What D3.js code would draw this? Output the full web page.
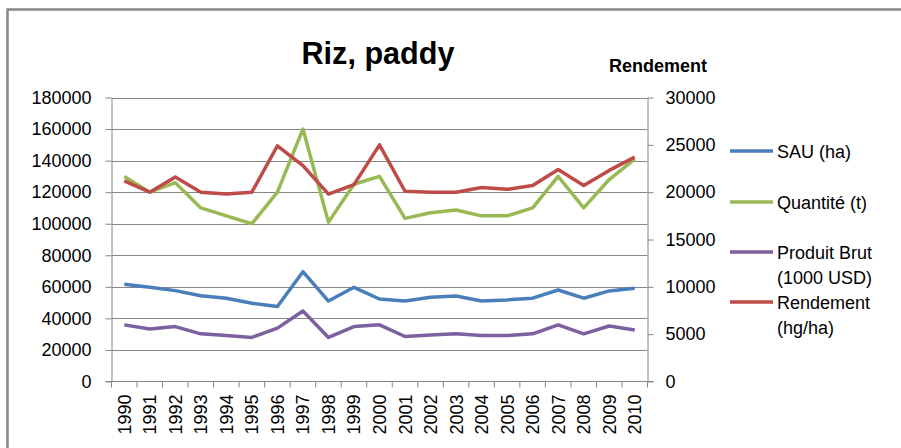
<!DOCTYPE html>
<html>
<head>
<meta charset="utf-8">
<script src="https://cdn.jsdelivr.net/npm/d3@7"></script>
<style>
  body { margin: 0; background: #fff; }
  svg { display: block; font-family: "Liberation Sans", Arial, sans-serif; }
</style>
</head>
<body>
<svg width="901" height="448"></svg>
<script>
// data
var years = ["1990","1991","1992","1993","1994","1995","1996","1997","1998","1999","2000",
             "2001","2002","2003","2004","2005","2006","2007","2008","2009","2010"]
var sau = [61600,59700,57600,54400,52800,49600,47500,69600,51000,59700,52300,
           51000,53400,54200,51000,51700,52800,58000,52800,57400,59100]
var quantite = [130000,120000,126000,110000,105000,100000,120000,160000,101000,125000,130000,
                103400,107000,108700,105000,105000,110000,130000,110000,128000,141000]
var produitBrut = [35900,33300,34800,30200,29100,27900,33800,44700,27900,34800,35900,
                   28500,29500,30200,29100,29100,30200,35900,30200,35200,32700]
var rendement = [21200,20000,21600,20000,19800,20000,24900,22800,19800,20800,25000,
                 20100,20000,20000,20500,20300,20700,22400,20700,22300,23700]
var leftTicks = [0,20000,40000,60000,80000,100000,120000,140000,160000,180000]
var rightTicks = [0,5000,10000,15000,20000,25000,30000]

var svg = d3.select("svg"),
    axisColor = "#868686",
    plotLeft = 111.5, plotRight = 647.5, plotTop = 97.5, plotBottom = 381.5

// frame
svg.append("path")
    .attr("d", "M7.5,449 V9.5 H902")
    .attr("fill", "none")
    .attr("stroke", axisColor)
    .attr("stroke-width", 2.5)

var x = d3.scaleBand().domain(years).range([plotLeft, plotRight])
var yL = d3.scaleLinear().domain([0, 180000]).range([plotBottom, plotTop])
var yR = d3.scaleLinear().domain([0, 30000]).range([plotBottom, plotTop])

// gridlines
svg.append("g").selectAll("line")
    .data(leftTicks.slice(1))
    .enter().append("line")
    .attr("x1", plotLeft).attr("x2", plotRight)
    .attr("y1", function(d){ return Math.round(yL(d)) + 0.5 })
    .attr("y2", function(d){ return Math.round(yL(d)) + 0.5 })
    .attr("stroke", axisColor)
    .attr("stroke-width", 1)

function styleAxis(g) {
    g.selectAll("path, line").attr("stroke", axisColor)
    g.selectAll("text").attr("fill", "#000").attr("font-size", "18px")
        .attr("font-family", "'Liberation Sans', Arial, sans-serif")
}

// left axis
svg.append("g")
    .attr("transform", "translate(" + plotLeft + ",0)")
    .call(d3.axisLeft(yL).tickValues(leftTicks).tickSize(6).tickSizeOuter(0).tickPadding(14).tickFormat(d3.format("d")))
    .call(styleAxis)

// right axis
svg.append("g")
    .attr("transform", "translate(" + plotRight + ",0)")
    .call(d3.axisRight(yR).tickValues(rightTicks).tickSize(6).tickSizeOuter(0).tickPadding(12).tickFormat(d3.format("d")))
    .call(styleAxis)

// x axis, ticks between categories
var xg = svg.append("g").attr("transform", "translate(0," + plotBottom + ")")
xg.append("line").attr("x1", plotLeft - 6).attr("x2", plotRight + 6).attr("stroke", axisColor)
xg.selectAll(".tk")
    .data(years.concat(["end"]))
    .enter().append("line")
    .attr("x1", function(d, i){ return plotLeft + i * x.bandwidth() })
    .attr("x2", function(d, i){ return plotLeft + i * x.bandwidth() })
    .attr("y1", 0).attr("y2", 6)
    .attr("stroke", axisColor)
xg.selectAll("text")
    .data(years)
    .enter().append("text")
    .attr("transform", function(d){
        return "translate(" + (x(d) + x.bandwidth() / 2 + 6.5) + ",13) rotate(-90)"
    })
    .attr("text-anchor", "end")
    .attr("font-size", "18px")
    .text(function(d){ return d })

// lines
var series = [
    {name: "SAU (ha)", values: sau, scale: yL, color: "#4A7EBB"},
    {name: "Quantité (t)", values: quantite, scale: yL, color: "#98B954"},
    {name: "Produit Brut", values: produitBrut, scale: yL, color: "#7D60A0"},
    {name: "Rendement", values: rendement, scale: yR, color: "#BE4B48"}
]
var drawOrder = [0, 2, 1, 3]
drawOrder.forEach(function(k) {
    var s = series[k]
    var line = d3.line()
        .x(function(d, i){ return x(years[i]) + x.bandwidth() / 2 })
        .y(function(d){ return s.scale(d) })
    svg.append("path")
        .datum(s.values)
        .attr("d", line)
        .attr("fill", "none")
        .attr("stroke", s.color)
        .attr("stroke-width", 3.5)
        .attr("stroke-linejoin", "round")
})

// legend
var legend = [
    {lines: ["SAU (ha)"], y: 151, color: "#4A7EBB"},
    {lines: ["Quantité (t)"], y: 202, color: "#98B954"},
    {lines: ["Produit Brut", "(1000 USD)"], y: 252, color: "#7D60A0"},
    {lines: ["Rendement", "(hg/ha)"], y: 302, color: "#BE4B48"}
]
var lg = svg.append("g")
legend.forEach(function(d) {
    lg.append("line")
        .attr("x1", 730).attr("x2", 773)
        .attr("y1", d.y).attr("y2", d.y)
        .attr("stroke", d.color).attr("stroke-width", 3.5)
    d.lines.forEach(function(t, i) {
        lg.append("text")
            .attr("x", 777)
            .attr("y", d.y + 6.5 + i * 25)
            .attr("font-size", "18px")
            .text(t)
    })
})

// titles
svg.append("text")
    .attr("x", 378).attr("y", 64)
    .attr("text-anchor", "middle")
    .attr("font-size", "32px")
    .attr("font-weight", "bold")
    .attr("textLength", 153)
    .attr("lengthAdjust", "spacingAndGlyphs")
    .text("Riz, paddy")

svg.append("text")
    .attr("x", 658).attr("y", 71.5)
    .attr("text-anchor", "middle")
    .attr("font-size", "18px")
    .attr("font-weight", "bold")
    .text("Rendement")
</script>
</body>
</html>
